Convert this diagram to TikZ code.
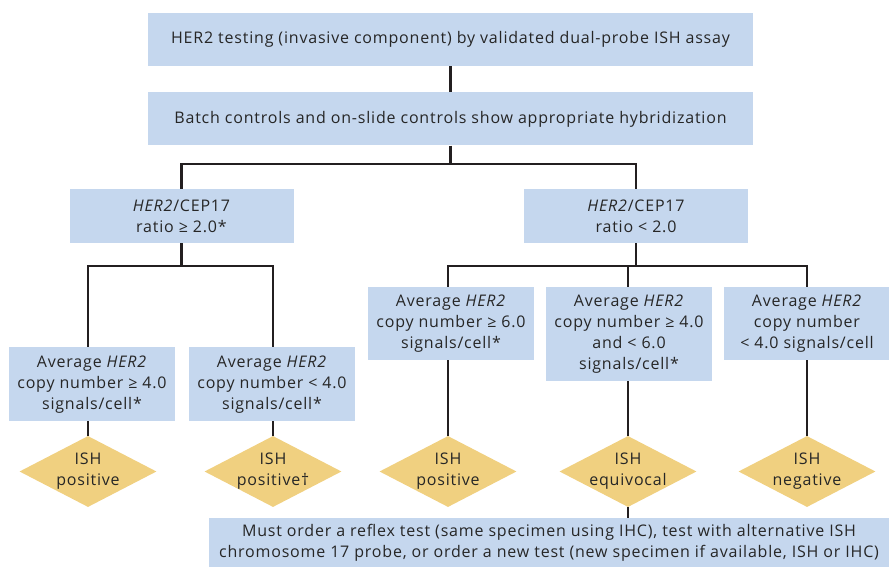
\documentclass[tikz,border=0pt]{standalone}
\usepackage{fontspec}
\setmainfont{Open Sans}[LetterSpace=5]
\usepackage{tikz}
\usetikzlibrary{positioning,shapes.geometric,backgrounds}
\definecolor{boxblue}{RGB}{197,215,238}
\definecolor{verdictgold}{RGB}{240,208,128}
\definecolor{linegray}{RGB}{35,31,32}
\tikzset{
 flow/.style={x=1pt,y=-1pt,
   font=\fontsize{16}{21}\selectfont,
   text=black!85},
 stage/.style={rectangle,fill=boxblue,align=center,inner sep=0pt},
 wide stage/.style={stage,minimum width=605pt,minimum height=53pt},
 ratio stage/.style={stage,minimum width=224pt,minimum height=54pt},
 count stage/.style={stage,minimum width=166pt,anchor=north},
 verdict/.style={diamond,fill=verdictgold,aspect=1.9,inner sep=-10pt,
   minimum width=137pt,minimum height=71pt,align=center},
 link/.style={draw=linegray,line width=2.3pt}
 }
\begin{document}
\begin{tikzpicture}[flow]
  \useasboundingbox (0,0) rectangle (889,567);
  % top of the chart
  \node[wide stage] (testing) at (450.5,39.5) {HER2 testing (invasive component) by validated dual-probe ISH assay};
  \node[wide stage] (controls) at (450.5,119) {Batch controls and on-slide controls show appropriate hybridization};
  \node[ratio stage] (ratioHigh) at (181.5,216) {\textit{HER2}/CEP17\\ratio ≥ 2.0*};
  \node[ratio stage] (ratioLow) at (636,216) {\textit{HER2}/CEP17\\ratio < 2.0};
  % copy number boxes
  \node[count stage,minimum height=74pt] (countA) at (92,347) {Average \textit{HER2}\\copy number ≥ 4.0\\signals/cell*};
  \node[count stage,minimum height=74pt] (countB) at (272,347) {Average \textit{HER2}\\copy number < 4.0\\signals/cell*};
  \node[count stage,minimum height=73pt] (countC) at (451,287) {Average \textit{HER2}\\copy number ≥ 6.0\\signals/cell*};
  \node[count stage,minimum height=94pt] (countD) at (629,287) {Average \textit{HER2}\\copy number ≥ 4.0\\and < 6.0\\signals/cell*};
  \node[count stage,minimum height=73pt] (countE) at (807,287) {Average \textit{HER2}\\copy number\\< 4.0 signals/cell};
  % results
  \node[verdict] (posA) at (88,471.5) {ISH\\positive};
  \node[verdict] (posB) at (273,471.5) {ISH\\positive†};
  \node[verdict] (posC) at (448,471.5) {ISH\\positive};
  \node[verdict] (equiv) at (628,471.5) {ISH\\equivocal};
  \node[verdict] (negative) at (807,471.5) {ISH\\negative};
  \node[stage,minimum width=680pt,minimum height=49pt] (reflex) at (549,542.5) {Must order a reflex test (same specimen using IHC), test with alternative ISH\\chromosome 17 probe, or order a new test (new specimen if available, ISH or IHC)};
  \coordinate (splitTop) at (450.5,164);
  \coordinate (splitHigh) at (181.5,266);
  \coordinate (splitLow) at (636,266);
  \begin{scope}[on background layer]
    \draw[link] (testing) -- (controls);
    \draw[link] (controls) -- (splitTop);
    \draw[link] (splitTop) -| (ratioHigh);
    \draw[link] (splitTop) -| (ratioLow);
    \draw[link] (ratioHigh) -- (splitHigh);
    \draw[link] (splitHigh) -| (posA);
    \draw[link] (splitHigh) -| (posB);
    \draw[link] (ratioLow) -- (splitLow);
    \draw[link] (splitLow) -| (posC);
    \draw[link] (splitLow) -| (equiv);
    \draw[link] (splitLow) -| (negative);
    \draw[link] (equiv) -- (equiv |- reflex.north);
  \end{scope}
\end{tikzpicture}
\end{document}
